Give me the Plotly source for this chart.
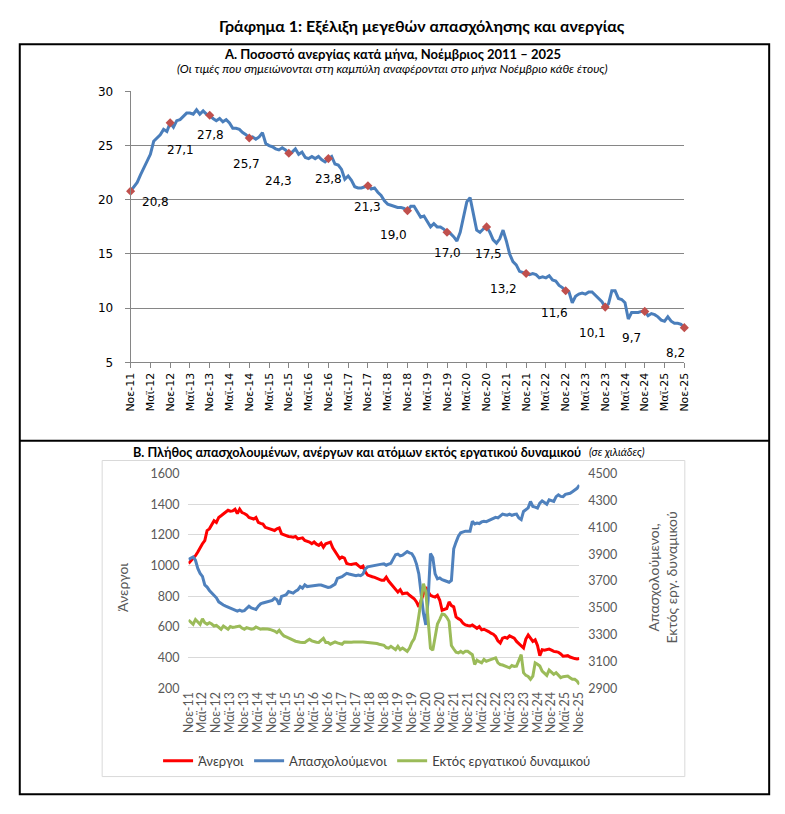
import plotly.graph_objects as go

W, H = 785, 814

# month categories Νοε-11 ... Νοε-25
month_names = ["Ιαν", "Φεβ", "Μαρ", "Απρ", "Μαϊ", "Ιουν",
               "Ιουλ", "Αυγ", "Σεπ", "Οκτ", "Νοε", "Δεκ"]
months = []
for k in range(169):
    m = (10 + k) % 12
    yy = 11 + (10 + k) // 12
    months.append(f"{month_names[m]}-{yy:02d}")

tick_months = months[::6]
nov_months = months[::12]

# A. unemployment rate (%), one row per Nov..Oct
unemployment_rate = [
    20.8, 21.2, 21.6, 22.3, 22.9, 23.6, 24.2, 25.4, 25.7, 26.0, 26.5, 26.3,
    27.1, 26.7, 27.3, 27.4, 27.7, 28.0, 28.0, 27.9, 28.3, 27.9, 28.2, 27.9,
    27.8, 27.5, 27.3, 27.5, 27.2, 27.4, 27.1, 26.6, 26.6, 26.5, 26.2, 26.0,
    25.7, 25.8, 25.6, 25.8, 26.2, 25.2, 25.0, 24.9, 24.7, 24.6, 24.8, 24.6,
    24.3, 24.4, 24.7, 24.2, 24.4, 23.9, 23.8, 24.0, 23.8, 24.0, 23.7, 23.5,
    23.8, 24.0, 23.3, 23.2, 22.8, 21.9, 22.2, 21.8, 21.2, 21.1, 21.1, 21.2,
    21.3, 21.0, 21.1, 20.7, 20.4, 19.9, 19.6, 19.5, 19.4, 19.3, 19.3, 19.2,
    19.0, 19.4, 19.4, 18.9, 18.4, 18.5, 18.0, 17.5, 17.8, 17.5, 17.5, 17.3,
    17.0, 16.9, 16.6, 16.2, 17.0, 18.3, 19.8, 20.2, 18.6, 17.2, 17.0, 17.3,
    17.5, 17.0, 16.3, 16.0, 16.4, 17.2, 16.2, 15.0, 14.3, 14.0, 13.4, 13.3,
    13.2, 13.1, 13.2, 13.1, 12.8, 12.9, 12.8, 13.0, 12.6, 12.5, 12.1, 11.9,
    11.6, 11.5, 10.5, 11.1, 11.3, 11.4, 11.3, 11.5, 11.5, 11.2, 10.9, 10.6,
    10.1, 10.4, 11.6, 11.6, 10.9, 10.8, 10.5, 9.0, 9.6, 9.6, 9.6, 9.7,
    9.7, 9.3, 9.5, 9.4, 9.2, 8.9, 8.8, 9.2, 8.8, 8.6, 8.6, 8.5,
    8.2,
]

# B. thousands of persons
unemployed = [
    1015, 1030, 1046, 1065, 1089, 1120, 1143, 1164, 1229, 1240, 1271, 1293,
    1282, 1314, 1325, 1336, 1346, 1361, 1355, 1357, 1368, 1340, 1368, 1346,
    1340, 1331, 1314, 1310, 1304, 1314, 1282, 1276, 1271, 1250, 1245, 1240,
    1235, 1229, 1240, 1246, 1207, 1200, 1196, 1190, 1188, 1186, 1190, 1175,
    1178, 1181, 1164, 1160, 1154, 1143, 1154, 1140, 1132, 1147, 1121, 1143,
    1150, 1154, 1117, 1089, 1070, 1046, 1057, 1050, 1014, 1010, 1008, 1012,
    1014, 1000, 989, 997, 960, 939, 932, 928, 924, 918, 911, 905,
    905, 925, 900, 882, 860, 840, 828, 843, 817, 820, 822, 807,
    795, 785, 764, 732, 775, 817, 860, 830, 807, 800, 796, 807,
    775, 710, 715, 721, 764, 740, 732, 667, 655, 646, 625, 614,
    610, 607, 614, 600, 592, 603, 582, 586, 580, 571, 560, 554,
    539, 510, 496, 528, 534, 528, 543, 535, 528, 507, 492, 480,
    464, 522, 549, 528, 507, 517, 480, 414, 453, 450, 453, 457,
    450, 442, 440, 436, 425, 410, 412, 414, 405, 399, 395, 393,
    395,
]

employed = [
    3861, 3870, 3880, 3855, 3794, 3757, 3735, 3671, 3655, 3630, 3610, 3592,
    3575, 3545, 3530, 3522, 3513, 3505, 3500, 3490, 3480, 3476, 3483, 3476,
    3480, 3495, 3513, 3500, 3495, 3488, 3513, 3530, 3537, 3541, 3549, 3552,
    3556, 3573, 3561, 3524, 3586, 3592, 3598, 3622, 3615, 3610, 3625, 3635,
    3659, 3647, 3671, 3659, 3662, 3665, 3665, 3668, 3671, 3670, 3665, 3659,
    3652, 3655, 3665, 3677, 3720, 3725, 3733, 3745, 3757, 3752, 3748, 3745,
    3740, 3745, 3740, 3752, 3790, 3806, 3810, 3815, 3818, 3820, 3824, 3826,
    3828, 3818, 3826, 3832, 3865, 3895, 3900, 3887, 3892, 3905, 3919, 3910,
    3904, 3875, 3826, 3753, 3581, 3459, 3373, 3560, 3904, 3875, 3753, 3716,
    3723, 3710, 3704, 3700, 3691, 3704, 3940, 3990, 4034, 4059, 4065, 4071,
    4070, 4071, 4145, 4125, 4132, 4128, 4140, 4145, 4142, 4150, 4155, 4164,
    4174, 4170, 4181, 4198, 4194, 4190, 4198, 4189, 4195, 4198, 4169, 4157,
    4218, 4230, 4245, 4292, 4255, 4250, 4243, 4280, 4297, 4285, 4272, 4304,
    4300, 4292, 4328, 4341, 4330, 4328, 4345, 4350, 4353, 4365, 4377, 4390,
    4414,
]

inactive = [
    3410, 3395, 3378, 3414, 3395, 3378, 3419, 3390, 3378, 3390, 3380, 3365,
    3370, 3355, 3341, 3365, 3350, 3341, 3361, 3355, 3358, 3362, 3365, 3350,
    3341, 3353, 3348, 3341, 3345, 3358, 3350, 3341, 3344, 3346, 3343, 3340,
    3335, 3328, 3316, 3333, 3310, 3292, 3285, 3275, 3267, 3260, 3252, 3247,
    3245, 3243, 3243, 3255, 3267, 3255, 3247, 3245, 3243, 3258, 3273, 3243,
    3243, 3230, 3238, 3247, 3240, 3235, 3230, 3247, 3245, 3243, 3245, 3247,
    3248, 3250, 3250, 3247, 3245, 3243, 3243, 3243, 3240, 3235, 3230, 3228,
    3222, 3205, 3201, 3214, 3200, 3189, 3214, 3189, 3201, 3190, 3177, 3201,
    3243, 3270, 3330, 3440, 3580, 3680, 3620, 3400, 3200, 3185, 3300, 3380,
    3415, 3455, 3450, 3430, 3400, 3220, 3194, 3170, 3165, 3177, 3165, 3177,
    3177, 3165, 3152, 3079, 3111, 3100, 3091, 3116, 3103, 3110, 3116, 3120,
    3128, 3091, 3079, 3075, 3067, 3060, 3054, 3071, 3065, 3067, 3110, 3152,
    3018, 2998, 2990, 2969, 2993, 3091, 3080, 3067, 3030, 3015, 2998, 3037,
    3020, 3005, 3018, 3000, 2981, 2988, 2990, 2993, 2980, 2969, 2969, 2955,
    2932,
]

# label offsets (px right, px down) for the November value labels
label_offsets = [(25, 11), (10, 27), (1, 20), (-3, 26), (-10, 28), (0, 20),
                 (0, 21), (-14, 24), (0, 21), (2, 27), (-23, 16), (-11, 22),
                 (-13, 26), (-13, 27), (-9, 25)]


def fx(x):
    return x / W


def fy(y):
    return 1 - y / H


calibri = "Lato, 'Open Sans', sans-serif"
verdana = "'DejaVu Sans', Verdana, sans-serif"
grey_txt = "#595959"

fig = go.Figure()

# ---- chart A
fig.add_trace(go.Scatter(
    x=months, y=unemployment_rate, mode="lines",
    line=dict(color="#4A7EBB", width=3), showlegend=False,
    xaxis="x", yaxis="y", hoverinfo="skip",
))
fig.add_trace(go.Scatter(
    x=nov_months, y=unemployment_rate[::12], mode="markers",
    marker=dict(symbol="diamond", size=7, color="#C0504D"),
    showlegend=False, xaxis="x", yaxis="y", cliponaxis=False,
))

# ---- chart B
fig.add_trace(go.Scatter(
    x=months, y=unemployed, mode="lines", name="Άνεργοι",
    line=dict(color="#FF0000", width=3), xaxis="x2", yaxis="y2",
))
fig.add_trace(go.Scatter(
    x=months, y=employed, mode="lines", name="Απασχολούμενοι",
    line=dict(color="#4F81BD", width=3), xaxis="x2", yaxis="y3",
))
fig.add_trace(go.Scatter(
    x=months, y=inactive, mode="lines", name="Εκτός εργατικού δυναμικού",
    line=dict(color="#9BBB59", width=3), xaxis="x2", yaxis="y3",
))

annotations = []
for m, v, (dx, dy) in zip(nov_months, unemployment_rate[::12], label_offsets):
    annotations.append(dict(
        x=m, y=v, xref="x", yref="y", text=f"{v:.1f}".replace(".", ","),
        showarrow=False, xshift=dx, yshift=-dy,
        font=dict(family=verdana, size=12, color="black"),
    ))

annotations += [
    dict(x=fx(422), y=fy(18), text="<b>Γράφημα 1: Εξέλιξη μεγεθών απασχόλησης και ανεργίας</b>",
         font=dict(family=calibri, size=16, color="black")),
    dict(x=fx(392), y=fy(47), text="<b>Α. Ποσοστό ανεργίας κατά μήνα, Νοέμβριος 2011 – 2025</b>",
         font=dict(family=calibri, size=13, color="black")),
    dict(x=fx(392), y=fy(62),
         text="<i>(Οι τιμές που σημειώνονται στη καμπύλη αναφέρονται στο μήνα Νοέμβριο κάθε έτους)</i>",
         font=dict(family=calibri, size=12, color="black")),
    dict(x=fx(586), y=fy(452), xanchor="right",
         text="<b>Β. Πλήθος απασχολουμένων, ανέργων και ατόμων εκτός εργατικού δυναμικού</b>",
         font=dict(family=calibri, size=12.7, color="black")),
    dict(x=fx(590), y=fy(452), xanchor="left", text="<i>(σε χιλιάδες)</i>",
         font=dict(family=calibri, size=11, color="black")),
    dict(x=fx(116), y=fy(590), text="Άνεργοι", textangle=-90,
         font=dict(family=calibri, size=14, color=grey_txt)),
    dict(x=fx(667), y=fy(580), text="Απασχολούμενοι,<br>Εκτός εργ. δυναμικού", textangle=-90,
         font=dict(family=calibri, size=14, color=grey_txt)),
]
for a in annotations[-7:]:
    a.update(xref="paper", yref="paper", showarrow=False)
    a.setdefault("xanchor", "center")
    a["yanchor"] = "middle"

shapes = [
    dict(type="rect", xref="paper", yref="paper", x0=fx(12), x1=fx(776), y0=fy(801), y1=fy(37),
         line=dict(color="black", width=2)),
    dict(type="line", xref="paper", yref="paper", x0=fx(12), x1=fx(776), y0=fy(441), y1=fy(441),
         line=dict(color="black", width=2)),
    dict(type="rect", xref="paper", yref="paper", x0=fx(96), x1=fx(690), y0=fy(783), y1=fy(461),
         line=dict(color="#D9D9D9", width=1)),
]

fig.update_layout(
    width=W, height=H, autosize=False,
    margin=dict(l=0, r=0, t=0, b=0),
    paper_bgcolor="white", plot_bgcolor="white",
    showlegend=True,
    legend=dict(orientation="h", x=fx(153), xanchor="left", y=fy(767), yanchor="middle",
                font=dict(family=calibri, size=13, color="#404040"),
                bgcolor="rgba(0,0,0,0)"),
    annotations=annotations,
    shapes=shapes,
    xaxis=dict(
        domain=[fx(125), fx(689.5)], anchor="y", type="category",
        categoryorder="array", categoryarray=months, range=[0, 168],
        tickmode="array", tickvals=tick_months, ticktext=tick_months,
        tickangle=-90, tickfont=dict(family=verdana, size=11, color="black"),
        showline=True, linecolor="#868686", ticks="outside", ticklen=5,
        tickcolor="#868686", showgrid=False, zeroline=False,
    ),
    yaxis=dict(
        domain=[fy(361), fy(85)], anchor="x", range=[5, 30], dtick=5, tick0=5,
        showgrid=True, gridcolor="#868686", gridwidth=1,
        showline=True, linecolor="#868686", ticks="outside", ticklen=5,
        tickcolor="#868686", tickfont=dict(family=verdana, size=12, color="black"),
        zeroline=False, ticklabelstandoff=9,
    ),
    xaxis2=dict(
        domain=[fx(184), fx(582.5)], anchor="y2", type="category",
        categoryorder="array", categoryarray=months, range=[0, 168],
        tickmode="array", tickvals=tick_months, ticktext=tick_months,
        tickangle=-90, tickfont=dict(family=calibri, size=12.5, color=grey_txt),
        showline=False, showgrid=False, ticks="", zeroline=False,
    ),
    yaxis2=dict(
        domain=[fy(693.3), fy(474.3)], anchor="x2", range=[200, 1600], dtick=200, tick0=200,
        showgrid=True, gridcolor="#D9D9D9", gridwidth=1, showline=False, ticks="",
        tickfont=dict(family=calibri, size=12.5, color=grey_txt), zeroline=False,
        ticklabelstandoff=8,
    ),
    yaxis3=dict(
        overlaying="y2", side="right", anchor="x2", range=[2900, 4500], dtick=200, tick0=2900,
        showgrid=False, showline=False, ticks="", zeroline=False,
        tickfont=dict(family=calibri, size=12.5, color=grey_txt),
        ticklabelstandoff=8,
    ),
)

# page margin off so the figure sits at the window origin; no toolbar
fig.write_html("out.html", config={"displayModeBar": False},
               post_script="document.body.style.margin='0';")
